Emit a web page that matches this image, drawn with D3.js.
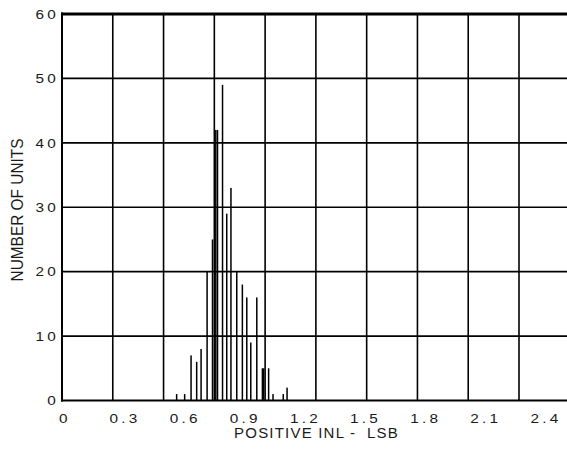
<!DOCTYPE html>
<html><head><meta charset="utf-8">
<script src="https://cdn.jsdelivr.net/npm/d3@7"></script>
<style>
html,body{margin:0;padding:0;background:#fff;}
svg{display:block;}
text{font-family:"Liberation Sans",Arial,Helvetica,sans-serif;fill:#1a1a1a;}
</style>
</head><body><div id="chart"></div>
<script>
// ---- data ----
const yTickValues = [0, 10, 20, 30, 40, 50, 60];
const xTickValues = [0, 0.3, 0.6, 0.9, 1.2, 1.5, 1.8, 2.1, 2.4];
const xTickLabels = ["0", "0.3", "0.6", "0.9", "1.2", "1.5", "1.8", "2.1", "2.4"];
const gridValues = [0.3, 0.6, 0.9, 1.2, 1.5, 1.8, 2.1, 2.4, 2.7];
const inlBins   = [0.565, 0.605, 0.637, 0.665, 0.687, 0.717, 0.744, 0.7605, 0.769, 0.794, 0.815, 0.836,
                   0.865, 0.893, 0.915, 0.935, 0.965, 0.993, 0.999, 1.024, 1.046, 1.097, 1.116];
const unitCounts = [1, 1, 7, 6, 8, 20, 25, 42, 42, 49, 29, 33,
                   20, 18, 16, 9, 16, 5, 5, 5, 1, 1, 2];
const xTitle = "POSITIVE INL -  LSB";
const yTitle = "NUMBER OF UNITS";

// ---- layout ----
const W = 567, H = 450;
const plot = {left: 62, right: 567, top: 14, bottom: 400.5};

const svg = d3.select("#chart").append("svg").attr("width", W).attr("height", H);

const y = d3.scaleLinear().domain([0, 60]).range([plot.bottom, plot.top]);
const x = d3.scaleLinear().domain([0, 2.4]).range([63.4, 544.4]);
const gridX = d3.scaleLinear().domain([0, 2.7]).range([62, 519]);

// horizontal grid
svg.append("g").selectAll("line").data(yTickValues.filter(v => v > 0 && v < 60)).join("line")
  .attr("x1", plot.left).attr("x2", plot.right)
  .attr("y1", d => y(d)).attr("y2", d => y(d))
  .attr("stroke", "#000").attr("stroke-width", 1.6);

// vertical grid
svg.append("g").selectAll("line").data(gridValues).join("line")
  .attr("x1", d => gridX(d)).attr("x2", d => gridX(d))
  .attr("y1", plot.top).attr("y2", plot.bottom)
  .attr("stroke", "#000").attr("stroke-width", 1.6);

// bars
const barW = 1.5;
svg.append("g").selectAll("rect").data(inlBins.map((v, i) => ({v, c: unitCounts[i]}))).join("rect")
  .attr("x", d => x(d.v) - barW / 2)
  .attr("width", barW)
  .attr("y", d => y(d.c))
  .attr("height", d => y(0) - y(d.c))
  .attr("fill", "#000");

// axes frame
svg.append("line").attr("x1", plot.left).attr("x2", plot.left)
  .attr("y1", plot.top - 1.5).attr("y2", plot.bottom + 1)
  .attr("stroke", "#000").attr("stroke-width", 2);
svg.append("line").attr("x1", plot.left - 1).attr("x2", plot.right)
  .attr("y1", y(0)).attr("y2", y(0))
  .attr("stroke", "#000").attr("stroke-width", 2);
svg.append("line").attr("x1", plot.left - 1).attr("x2", plot.right)
  .attr("y1", y(60)).attr("y2", y(60))
  .attr("stroke", "#000").attr("stroke-width", 3);

// y tick labels (slightly wide lettering like the original)
svg.append("g").selectAll("text").data(yTickValues).join("text")
  .attr("transform", d => `translate(58.7,${y(d)}) scale(1.18,1)`)
  .attr("dy", "0.36em")
  .attr("text-anchor", "end")
  .style("font-size", "13px").style("letter-spacing", "2.55px")
  .text(d => String(d));

// x tick labels
svg.append("g").selectAll("text").data(xTickValues).join("text")
  .attr("transform", d => `translate(${x(d) + 1.6},422.7) scale(1.18,1)`)
  .attr("text-anchor", "middle")
  .style("font-size", "13px").style("letter-spacing", "2.75px")
  .text((d, i) => xTickLabels[i]);

// titles
svg.append("text")
  .attr("x", 316.5).attr("y", 438.3)
  .attr("text-anchor", "middle")
  .style("font-size", "15px").style("letter-spacing", "1.2px").style("white-space", "pre")
  .text(xTitle);

svg.append("text")
  .attr("transform", "translate(22.6,210) rotate(-90)")
  .attr("text-anchor", "middle")
  .attr("textLength", 143).attr("lengthAdjust", "spacingAndGlyphs")
  .style("font-size", "17px")
  .text(yTitle);
</script>
</body></html>
